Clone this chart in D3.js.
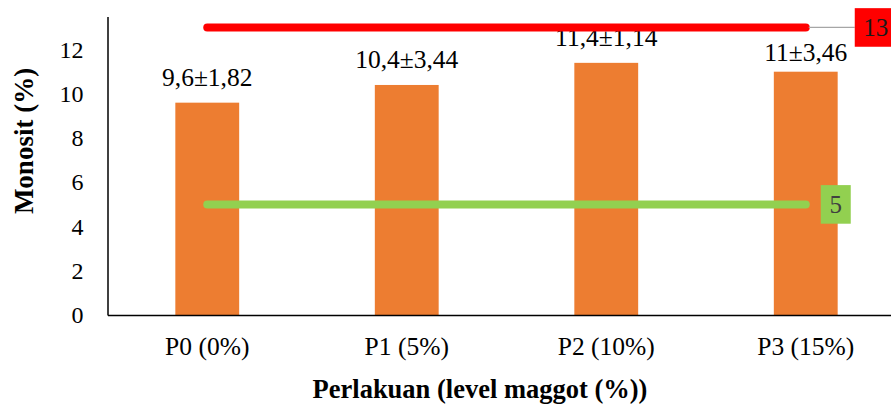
<!DOCTYPE html>
<html>
<head>
<meta charset="utf-8">
<script src="https://cdn.jsdelivr.net/npm/d3@7"></script>
<style>
  html, body { margin: 0; padding: 0; background: #fff; overflow: hidden; }
  svg text { font-family: "Liberation Serif", "Tinos", "Times New Roman", "Nimbus Roman", "DejaVu Serif", serif !important; }
</style>
</head>
<body>
<svg id="chart" width="891" height="405"></svg>
<script>
// Monocyte percentage per treatment (maggot level)
const categories = ["P0 (0%)", "P1 (5%)", "P2 (10%)", "P3 (15%)"];
const monositValues = [9.6, 10.4, 11.4, 11];
const valueLabels = ["9,6±1,82", "10,4±3,44", "11,4±1,14", "11±3,46"];
// Normal range bounds
const upperLimit = 13;
const lowerLimit = 5;
const yTicks = [0, 2, 4, 6, 8, 10, 12];
const yDomain = [0, 13.5];

const svg = d3.select("#chart");

const plot = { left: 107.5, right: 905.5, top: 16.4, bottom: 315 };

const x = d3.scaleBand()
  .domain(categories)
  .range([plot.left, plot.right])
  .padding(0);

const y = d3.scaleLinear()
  .domain(yDomain)
  .range([plot.bottom, plot.top]);

const barW = x.bandwidth() * 0.32;
const cx = c => x(c) + x.bandwidth() / 2;

// Bars
svg.append("g")
  .selectAll("rect")
  .data(monositValues)
  .join("rect")
  .attr("x", (d, i) => cx(categories[i]) - barW / 2)
  .attr("y", d => y(d))
  .attr("width", barW)
  .attr("height", d => y(0) - y(d))
  .attr("fill", "#ED7D31");

// Value labels above bars (last one sits a little lower)
const labelNudge = [0, 0, 0, 6];
svg.append("g")
  .selectAll("text")
  .data(monositValues)
  .join("text")
  .attr("x", (d, i) => cx(categories[i]))
  .attr("y", (d, i) => y(d) - 16.5 + labelNudge[i])
  .attr("text-anchor", "middle")
  .attr("font-size", 25.5)
  .attr("fill", "#000")
  .text((d, i) => valueLabels[i]);

// Y axis
const yAxis = d3.axisLeft(y).tickValues(yTicks).tickSize(0).tickPadding(24)
  .tickFormat(d3.format("d"));
const gy = svg.append("g")
  .attr("transform", `translate(${plot.left},0)`)
  .call(yAxis);
gy.select(".domain").attr("stroke", "#000").attr("stroke-width", 1.5);
gy.selectAll("text")
  .attr("font-size", 24)
  .attr("fill", "#000");

// X axis
const xAxis = d3.axisBottom(x).tickSize(0).tickPadding(22);
const gx = svg.append("g")
  .attr("transform", `translate(0,${plot.bottom})`)
  .call(xAxis);
gx.select(".domain").attr("stroke", "#000").attr("stroke-width", 1.5);
gx.selectAll("text")
  .attr("font-size", 25.5)
  .attr("fill", "#000");

// Reference lines for the normal range
const x0 = cx(categories[0]);
const x1 = cx(categories[categories.length - 1]);
const refs = [
  { value: upperLimit, color: "#FF0000", boxGap: 46, leader: true, textColor: "#1a1a1a" },
  { value: lowerLimit, color: "#92D050", boxGap: 12, leader: false, textColor: "#404040" }
];

refs.forEach(r => {
  const yy = y(r.value);
  svg.append("line")
    .attr("x1", x0).attr("x2", x1)
    .attr("y1", yy).attr("y2", yy)
    .attr("stroke", r.color)
    .attr("stroke-width", 8)
    .attr("stroke-linecap", "round");

  const bx = x1 + 3 + r.boxGap;
  if (r.leader) {
    svg.append("line")
      .attr("x1", x1 + 3).attr("x2", bx)
      .attr("y1", yy).attr("y2", yy)
      .attr("stroke", "#A6A6A6")
      .attr("stroke-width", 1.2);
  }
  const label = String(r.value);
  const tw = label.length * 12;
  svg.append("rect")
    .attr("x", bx).attr("y", yy - 19.3)
    .attr("width", tw + 18).attr("height", 38.6)
    .attr("fill", r.color);
  svg.append("text")
    .attr("x", bx + 9 + tw / 2)
    .attr("y", yy + 8.5)
    .attr("text-anchor", "middle")
    .attr("font-size", 25)
    .attr("fill", r.textColor)
    .text(label);
});

// Axis titles
svg.append("text")
  .attr("x", 480)
  .attr("y", 398)
  .attr("text-anchor", "middle")
  .attr("font-size", 26.5)
  .attr("font-weight", "bold")
  .attr("fill", "#000")
  .text("Perlakuan (level maggot (%))");

svg.append("text")
  .attr("transform", "translate(33,141) rotate(-90)")
  .attr("text-anchor", "middle")
  .attr("font-size", 27)
  .attr("font-weight", "bold")
  .attr("fill", "#000")
  .text("Monosit (%)");
</script>
</body>
</html>
